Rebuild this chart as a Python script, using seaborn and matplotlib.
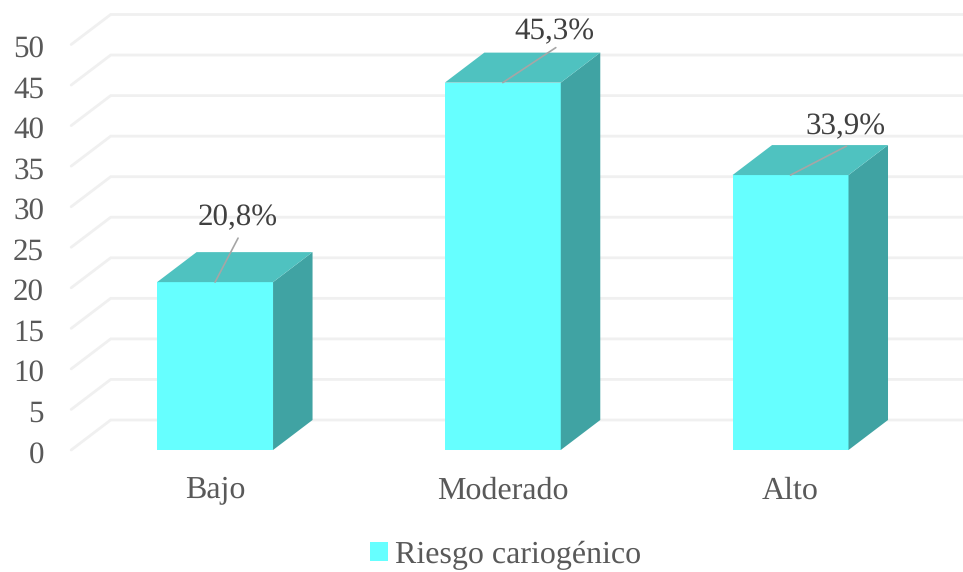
import matplotlib
matplotlib.use('Agg')
import pandas as pd
import matplotlib.pyplot as plt
import seaborn as sns
from matplotlib.patches import Polygon
from matplotlib.transforms import ScaledTranslation

categorias = ['Bajo', 'Moderado', 'Alto']
valores = [20.7, 45.3, 33.9]
etiquetas = ['20,8%', '45,3%', '33,9%']
ticks_y = [0, 5, 10, 15, 20, 25, 30, 35, 40, 45, 50]
serie = 'Riesgo cariogénico'

# label and leader line offsets from the bar top, in pixels
offset_texto = [(23, 64), (52, 51), (55, 48)]
offset_linea = [(23, 44), (53, 35), (56, 29)]

sns.set_theme(style='white')
plt.rcParams['font.family'] = ['Liberation Serif', 'DejaVu Serif']
plt.rcParams['text.hinting'] = 'no_hinting'
plt.rcParams['text.hinting_factor'] = 1

W, H = 963, 572
fig = plt.figure(figsize=(W / 100, H / 100), dpi=100)
ax = fig.add_axes([71.2 / W, (H - 450) / H, 863.2 / W, 405.5 / H])

df = pd.DataFrame({'riesgo': categorias, 'pct': valores})
sns.barplot(data=df, x='riesgo', y='pct', color='#66FFFF', saturation=1,
            width=0.403, label=serie, linewidth=0, zorder=3, ax=ax)
ax.set_xlim(-0.5, 2.5)
ax.set_ylim(0, 50)

# fake 3D depth, in data units
dx = 39.5 / 287.75
dy = 30 / 8.11

# back wall grid
for t in ticks_y:
    ax.plot([-0.5, -0.5 + dx, 2.5 + dx], [t, t + dy, t + dy], color='#F0F0F0',
            lw=2.0, clip_on=False, zorder=1, solid_joinstyle='miter')

# side and top faces of each bar
for bar in ax.containers[0]:
    x0 = bar.get_x()
    x1 = x0 + bar.get_width()
    h = bar.get_height()
    ax.add_patch(Polygon([(x1, 0), (x1 + dx, dy), (x1 + dx, h + dy), (x1, h)],
                         fc='#40A3A3', ec='none', clip_on=False, zorder=3))
    ax.add_patch(Polygon([(x0, h), (x0 + dx, h + dy), (x1 + dx, h + dy), (x1, h)],
                         fc='#4FC2C0', ec='none', clip_on=False, zorder=3))

for i, (v, txt) in enumerate(zip(valores, etiquetas)):
    ax.annotate('', xy=(i, v), xytext=offset_linea[i], textcoords='offset pixels',
                arrowprops=dict(arrowstyle='-', color='#A6A6A6', lw=1.2,
                                shrinkA=0, shrinkB=0), zorder=5, annotation_clip=False)
    ax.annotate(txt, xy=(i, v), xytext=offset_texto[i], textcoords='offset pixels',
                ha='center', va='center', fontsize=22.3, color='#404040',
                zorder=6, annotation_clip=False)

sns.despine(ax=ax, left=True, bottom=True)
ax.set_xlabel('')
ax.set_ylabel('')
ax.set_yticks(ticks_y)
ax.tick_params(axis='y', labelsize=22.3, labelcolor='#595959', length=0, pad=19.5)
ax.tick_params(axis='x', labelsize=23.2, labelcolor='#595959', length=0, pad=19)

# y tick labels sit a little lower than the tick position
for lab in ax.get_yticklabels():
    lab.set_transform(lab.get_transform() + ScaledTranslation(0, -1.5 / 100, fig.dpi_scale_trans))

leg = ax.legend(loc='center', bbox_to_anchor=(505.5 / W, (H - 555) / H),
                bbox_transform=fig.transFigure, frameon=False, fontsize=23,
                labelcolor='#595959', handlelength=0.55, handleheight=0.55,
                handletextpad=0.22, borderpad=0, borderaxespad=0)

fig.savefig('out.png', dpi=100, facecolor='white')
